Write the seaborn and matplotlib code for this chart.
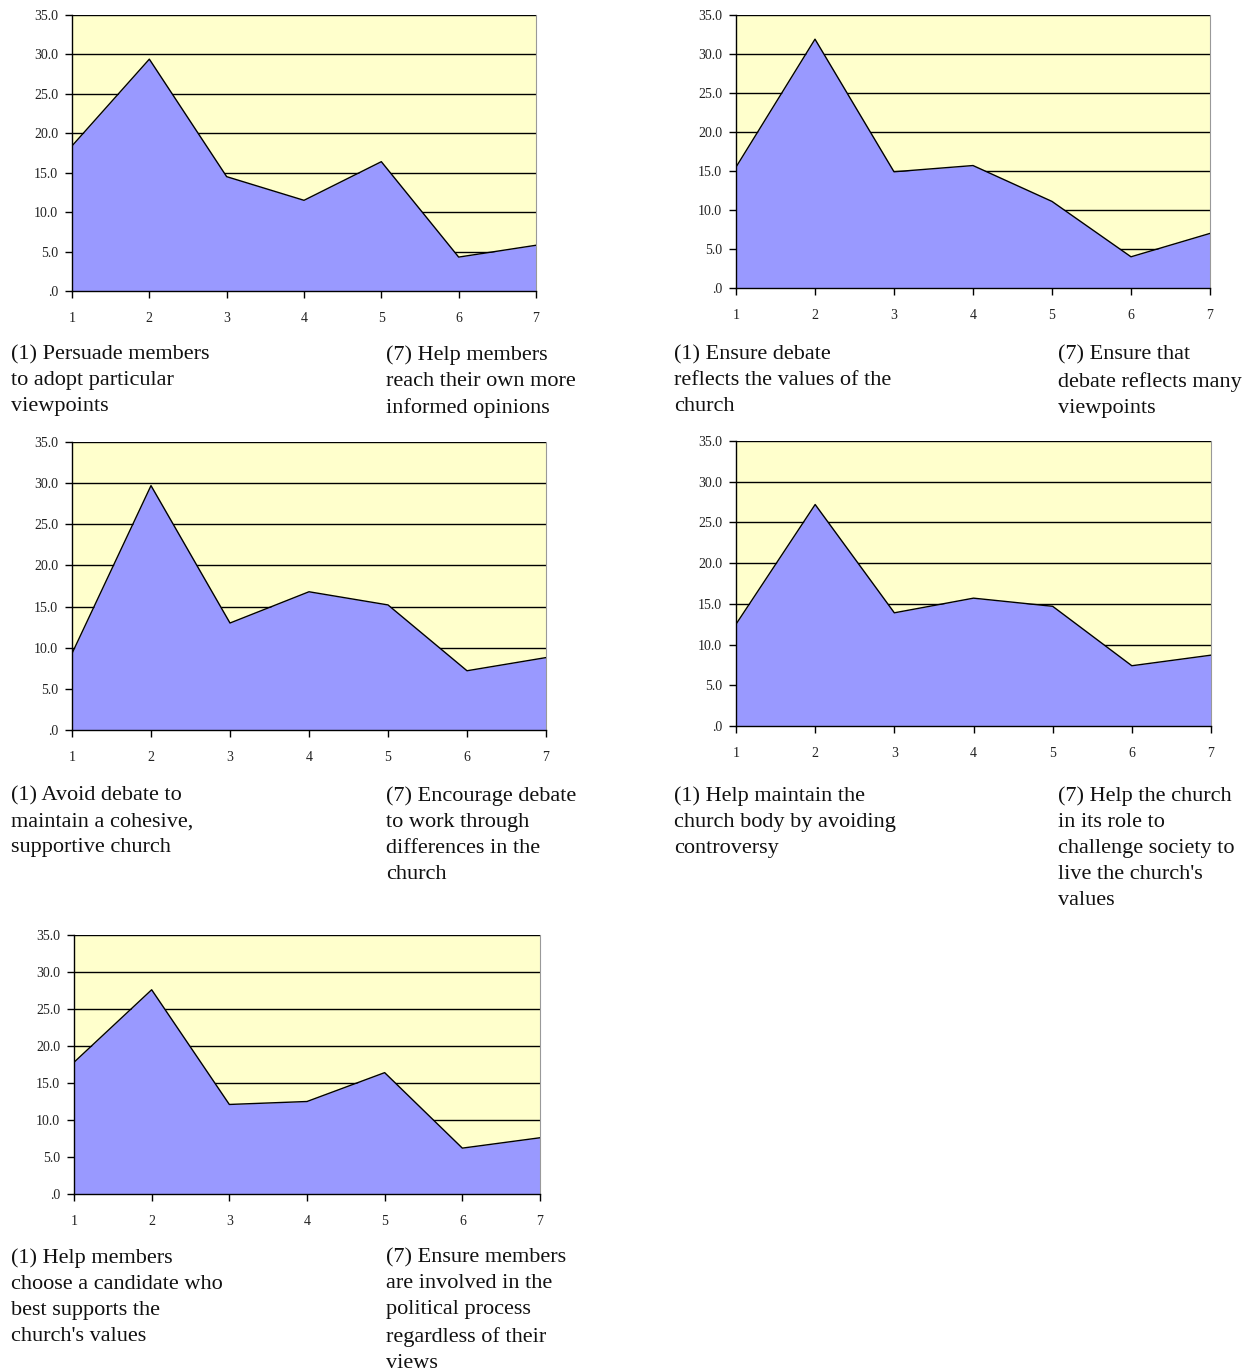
import numpy as np
import matplotlib
matplotlib.use('Agg')
import matplotlib.pyplot as plt
from matplotlib.ticker import FuncFormatter
import seaborn as sns

sns.set_style('white')
plt.rcParams['font.family'] = ['Liberation Serif', 'DejaVu Serif']

# Data:
scale = [1, 2, 3, 4, 5, 6, 7]
persuade = [18.4, 29.4, 14.5, 11.5, 16.4, 4.3, 5.8]
debateValues = [15.5, 31.9, 14.9, 15.7, 11.1, 4.0, 7.0]
avoidDebate = [9.3, 29.7, 13.0, 16.8, 15.2, 7.2, 8.8]
maintainBody = [12.5, 27.2, 13.9, 15.7, 14.7, 7.4, 8.7]
candidate = [17.8, 27.6, 12.1, 12.5, 16.4, 6.2, 7.6]

leftLabels = ['(1) Persuade members\nto adopt particular\nviewpoints',
              '(1) Ensure debate\nreflects the values of the\nchurch',
              '(1) Avoid debate to\nmaintain a cohesive,\nsupportive church',
              '(1) Help maintain the\nchurch body by avoiding\ncontroversy',
              '(1) Help members\nchoose a candidate who\nbest supports the\nchurch\'s values']
rightLabels = ['(7) Help members\nreach their own more\ninformed opinions',
               '(7) Ensure that\ndebate reflects many\nviewpoints',
               '(7) Encourage debate\nto work through\ndifferences in the\nchurch',
               '(7) Help the church\nin its role to\nchallenge society to\nlive the church\'s\nvalues',
               '(7) Ensure members\nare involved in the\npolitical process\nregardless of their\nviews']

seriesList = [persuade, debateValues, avoidDebate, maintainBody, candidate]

# Layout in pixels: (left, top, right, bottom) of each plot area, and label anchors
W, H = 1257, 1372
boxes = [(72, 15, 536, 291), (736, 15, 1210, 288), (72, 442, 546, 730),
         (736, 441, 1211, 726), (74, 935, 540, 1194)]
labelPos = [(11, 345, 386), (674, 345, 1058), (11, 786, 386),
            (674, 786, 1058), (11, 1248, 386)]

fig = plt.figure(figsize=(W / 100, H / 100), dpi=100)

for values, box, lab, lText, rText in zip(seriesList, boxes, labelPos, leftLabels, rightLabels):
    l, t, r, b = box
    ax = fig.add_axes([l / W, 1 - b / H, (r - l) / W, (b - t) / H])
    ax.set_facecolor('#FFFFCC')
    ax.fill_between(scale, values, 0, color='#9999FF', zorder=2, linewidth=0)
    sns.lineplot(x=scale, y=values, ax=ax, color='black', linewidth=1.0, zorder=3)
    ax.set_xlim(1, 7)
    ax.set_ylim(0, 35)
    ax.set_xticks(scale)
    ax.set_yticks(np.arange(0, 36, 5))
    ax.yaxis.set_major_formatter(FuncFormatter(lambda v, p: '.0' if v == 0 else f'{v:.1f}'))
    ax.grid(axis='y', color='black', linewidth=1.0, zorder=1)
    ax.grid(axis='x', visible=False)
    ax.set_axisbelow(True)
    for side in ['left', 'bottom']:
        ax.spines[side].set_color('black')
        ax.spines[side].set_linewidth(1.0)
        ax.spines[side].set_zorder(4)
    ax.spines['right'].set_color('#999999')
    ax.spines['top'].set_visible(False)
    ax.tick_params(axis='both', direction='out', length=5, width=1, color='black',
                   labelsize=10, labelcolor='#222222', left=True, bottom=True)
    ax.tick_params(axis='x', pad=10)
    ax.tick_params(axis='y', pad=5)

    xl, yTop, xr = lab
    fig.text(xl / W, 1 - yTop / H, lText, ha='left', va='top', fontsize=16,
             linespacing=1.5, color='#111111')
    fig.text(xr / W, 1 - yTop / H, rText, ha='left', va='top', fontsize=16,
             linespacing=1.5, color='#111111')

plt.savefig('out.png', dpi=100)
